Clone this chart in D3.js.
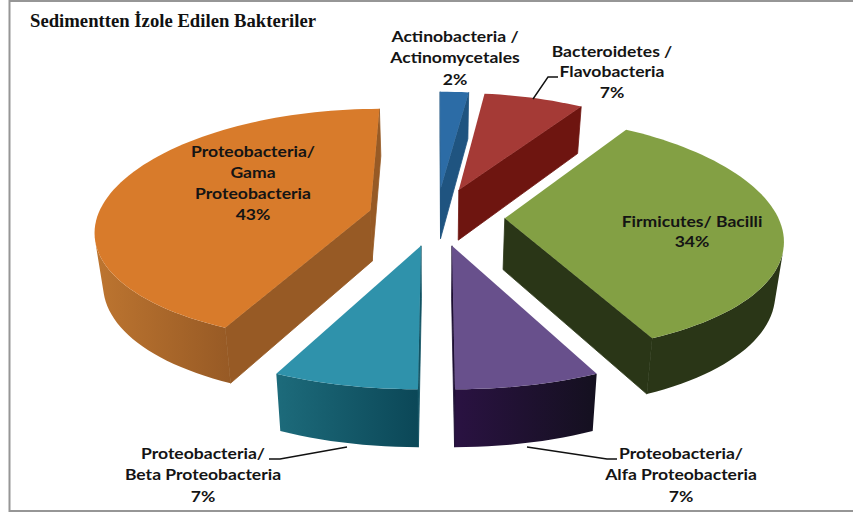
<!DOCTYPE html>
<html>
<head>
<meta charset="utf-8">
<script src="https://cdn.jsdelivr.net/npm/d3@7"></script>
<style>
html, body { margin: 0; padding: 0; background: #fff; }
svg { display: block; }
</style>
</head>
<body>
<script>
var w = 853, h = 514;

var categories = [
	"Actinobacteria / Actinomycetales",
	"Bacteroidetes / Flavobacteria",
	"Firmicutes/ Bacilli",
	"Proteobacteria/ Alfa Proteobacteria",
	"Proteobacteria/ Beta Proteobacteria",
	"Proteobacteria/ Gama Proteobacteria"
];
var values = [2, 7, 34, 7, 7, 43];
var labelLines = [
	["Actinobacteria /", "Actinomycetales"],
	["Bacteroidetes /", "Flavobacteria"],
	["Firmicutes/ Bacilli"],
	["Proteobacteria/", "Alfa Proteobacteria"],
	["Proteobacteria/", "Beta Proteobacteria"],
	["Proteobacteria/", "Gama", "Proteobacteria"]
];
var title = "Sedimentten İzole Edilen Bakteriler";

var topColors  = ["#2c6ca6", "#a53a36", "#83a044", "#68508c", "#2f92ab", "#d87b2b"];
var sideColors = ["#1f5480", "#6e1510", "#2a3617", "#1d0f33", "#125363", "#975a25"];
var rimLeft    = ["#1f5480", "#6e1510", "#2a3617", "#2a1242", "#1d6b7b", "#bd7530"];
var rimRight   = ["#1f5480", "#6e1510", "#2a3617", "#14101f", "#0b4757", "#975a25"];

// label placement: centre x and first baseline
var labelX = [455, 612, 692, 681, 203, 253];
var labelY = [42, 57, 227, 459, 459, 157];
var lineGap = [21.5, 20.5, 20, 21.5, 21.5, 21];

// leader lines from slice to label
var leaders = [
	[[533, 99], [548, 77], [558, 77]],
	[[527, 447], [607, 459], [617, 459]],
	[[347, 447], [280, 459], [269, 459]]
];

// ground plane -> screen, floor of the pie is the same plane pushed down
var cx = 436.5, horizon = -670, planeH = 886.5, perspY = 0.1311, perspX = 0.158, radiusX = 273;
var explode = 0.25;

function project(X, Y)
{
	return [cx + radiusX * X / (1 - perspX * Y), horizon + planeH / (1 - perspY * Y)];
}
function drop(p)
{
	var t = 47 + 0.0387 * (p[1] - 108);
	return [p[0] + (cx - p[0]) * 0.025, p[1] + t];
}

var svg = d3.select("body").append("svg")
	.attr("width", w)
	.attr("height", h);

var defs = svg.append("defs");

svg.append("rect")
	.attr("x", 9.5).attr("y", 1)
	.attr("width", w).attr("height", 510)
	.attr("fill", "#fff")
	.attr("stroke", "#969696")
	.attr("stroke-width", 2);

svg.append("text")
	.attr("x", 30).attr("y", 27)
	.attr("font-family", "'Liberation Serif'")
	.attr("font-weight", "bold")
	.attr("font-size", 18.7)
	.attr("fill", "#111")
	.text(title);

var pie = d3.pie().sort(null).value(function(d){return d;});
var arcs = pie(values);
var line = d3.line();
var rimStep = 2 * Math.PI / 180;

arcs.forEach(function(a, i)
{
	var mid = (a.startAngle + a.endAngle) / 2;
	var ax = explode * Math.sin(mid), ay = -explode * Math.cos(mid);
	var apex = project(ax, ay);

	var n = Math.max(2, Math.ceil((a.endAngle - a.startAngle) / rimStep));
	var angle = d3.scaleLinear().domain([0, n]).range([a.startAngle, a.endAngle]);
	var rim = d3.range(n + 1).map(function(k){
		return project(ax + Math.sin(angle(k)), ay - Math.cos(angle(k)));
	});
	var g = svg.append("g").attr("class", "slice");

	// outer wall: the run of rim points that faces the viewer
	var front = d3.range(n).filter(function(k){
		return d3.polygonArea([rim[k], rim[k + 1], drop(rim[k + 1]), drop(rim[k])]) > 0;
	});
	if (front.length)
	{
		var upper = rim.slice(front[0], front[front.length - 1] + 2);
		var wall = upper.concat(upper.map(drop).reverse());
		var xr = d3.extent(wall, function(p){return p[0];});
		var grad = defs.append("linearGradient")
			.attr("id", "wall" + i)
			.attr("gradientUnits", "userSpaceOnUse")
			.attr("x1", xr[0]).attr("x2", xr[1])
			.attr("y1", 0).attr("y2", 0);
		grad.append("stop").attr("offset", 0).attr("stop-color", rimLeft[i]);
		grad.append("stop").attr("offset", 1).attr("stop-color", rimRight[i]);
		g.append("path")
			.attr("d", line(wall) + "Z")
			.attr("fill", "url(#wall" + i + ")");
	}

	// radial walls, only those turned toward the viewer; thin stroke closes the join with the outer wall
	[[apex, rim[0]], [rim[n], apex]].forEach(function(e)
	{
		var quad = [e[0], e[1], drop(e[1]), drop(e[0])];
		if (d3.polygonArea(quad) > 0)
			g.append("path")
				.attr("d", line(quad) + "Z")
				.attr("fill", sideColors[i])
				.attr("stroke", sideColors[i])
				.attr("stroke-width", 0.8);
	});

	g.append("path")
		.attr("d", line([apex].concat(rim)) + "Z")
		.attr("fill", topColors[i]);
});

leaders.forEach(function(l)
{
	svg.append("path")
		.attr("d", line(l))
		.attr("fill", "none")
		.attr("stroke", "#111")
		.attr("stroke-width", 1.4);
});

labelLines.forEach(function(lines, i)
{
	var rows = lines.concat([values[i] + "%"]);
	var t = svg.append("text")
		.attr("transform", "translate(" + labelX[i] + ",0) scale(1.17,1)")
		.attr("text-anchor", "middle")
		.attr("font-family", "Lato")
		.attr("font-weight", "bold")
		.attr("font-size", 15)
		.attr("fill", "#141414");
	rows.forEach(function(r, k)
	{
		t.append("tspan")
			.attr("x", 0)
			.attr("y", labelY[i] + k * lineGap[i])
			.text(r);
	});
});
</script>
</body>
</html>
